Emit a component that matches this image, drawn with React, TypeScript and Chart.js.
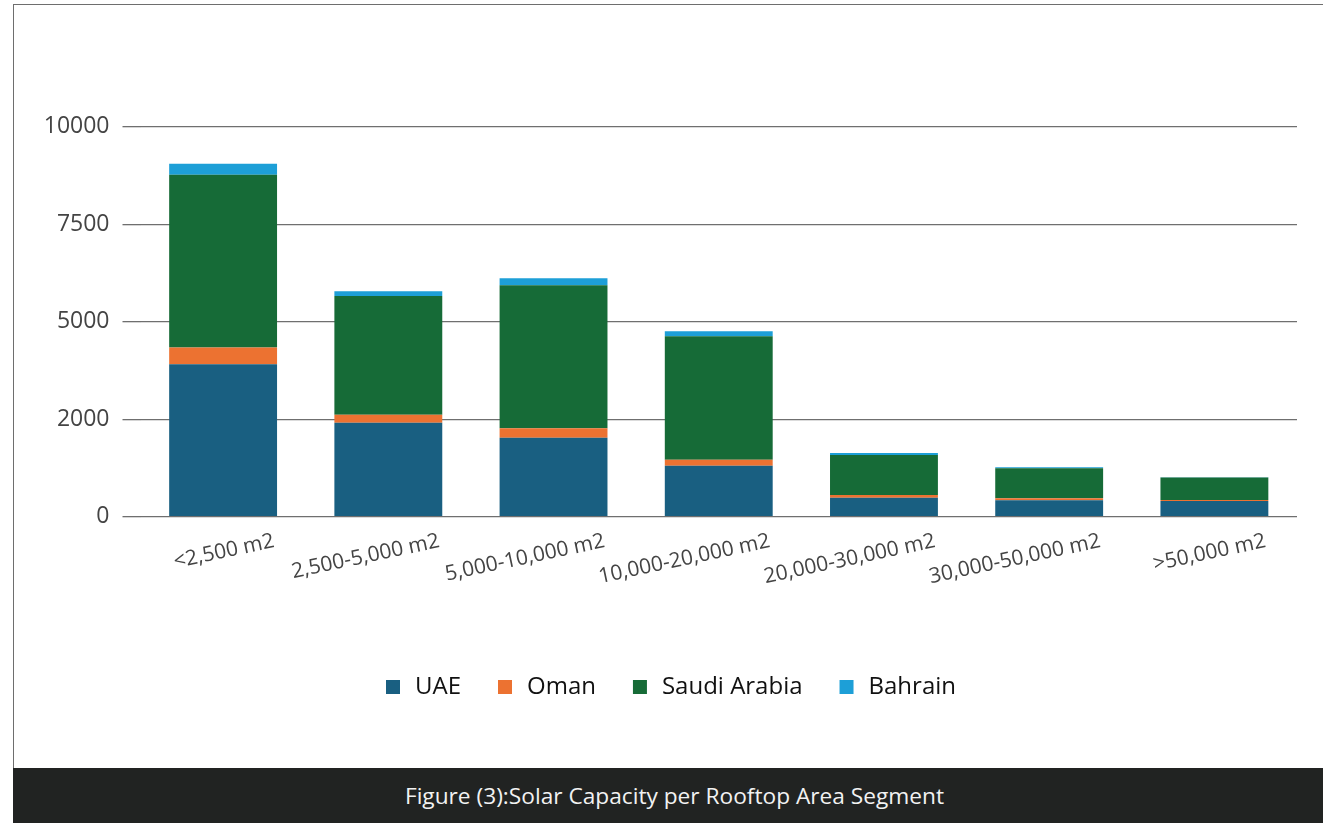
import React, { useEffect, useRef } from "react";
import { Chart, registerables } from "chart.js";

Chart.register(...registerables);

const categories = [
  "<2,500 m2",
  "2,500-5,000 m2",
  "5,000-10,000 m2",
  "10,000-20,000 m2",
  "20,000-30,000 m2",
  "30,000-50,000 m2",
  ">50,000 m2",
];

const uae = [3910, 2410, 2025, 1305, 485, 425, 400];
const oman = [430, 205, 240, 155, 70, 50, 30];
const saudiArabia = [4425, 3045, 3670, 3165, 1030, 770, 575];
const bahrain = [285, 120, 180, 130, 50, 25, 5];

const yTickValues = [0, 2500, 5000, 7500, 10000];
const yTickLabels = ["0", "2000", "5000", "7500", "10000"];

const caption = "Figure (3):Solar Capacity per Rooftop Area Segment";

const FONT = "'Open Sans', 'DejaVu Sans', sans-serif";

export default function App() {
  const canvasRef = useRef<HTMLCanvasElement | null>(null);

  useEffect(() => {
    const canvas = canvasRef.current;
    if (!canvas) return;
    const chart = new Chart(canvas, {
      type: "bar",
      data: {
        labels: categories,
        datasets: [
          { label: "UAE", data: uae, backgroundColor: "#195f81" },
          { label: "Oman", data: oman, backgroundColor: "#ec7231" },
          { label: "Saudi Arabia", data: saudiArabia, backgroundColor: "#166b37" },
          { label: "Bahrain", data: bahrain, backgroundColor: "#1d9fd7" },
        ],
      },
      options: {
        responsive: false,
        animation: false,
        devicePixelRatio: 1,
        layout: { padding: { top: 126.7, bottom: 59, left: 42, right: 26 } },
        datasets: {
          bar: { barPercentage: 0.653, categoryPercentage: 1, borderWidth: 0 },
        },
        plugins: {
          tooltip: { enabled: false },
          legend: {
            position: "bottom",
            labels: {
              usePointStyle: true,
              pointStyle: "rect",
              boxWidth: 20,
              boxHeight: 14,
              padding: 34,
              color: "#111111",
              font: { family: FONT, size: 24 },
            },
          },
        },
        scales: {
          x: {
            stacked: true,
            grid: { display: false, drawTicks: false },
            border: { display: false },
            ticks: {
              autoSkip: false,
              minRotation: 12,
              maxRotation: 12,
              labelOffset: 51,
              padding: 12,
              color: "#444444",
              font: { family: FONT, size: 21 },
            },
            afterFit: (scale: any) => {
              scale.height = 124.3;
            },
          },
          y: {
            stacked: true,
            min: 0,
            max: 10000,
            afterBuildTicks: (scale: any) => {
              scale.ticks = yTickValues.map((v) => ({ value: v }));
            },
            ticks: {
              padding: 13,
              color: "#444444",
              font: { family: FONT, size: 23 },
              callback: (_v: any, i: number) => yTickLabels[i],
            },
            grid: {
              color: "#6f6f6f",
              lineWidth: 1.3,
              drawTicks: true,
              tickLength: 18,
            },
            border: { display: false },
            afterFit: (scale: any) => {
              scale.width = 98.5;
            },
          },
        },
      },
    });
    return () => chart.destroy();
  }, []);

  return (
    <div
      style={{
        position: "absolute",
        left: 0,
        top: 0,
        width: 1323,
        height: 823,
        background: "#ffffff",
        overflow: "hidden",
      }}
    >
      <div
        style={{
          position: "absolute",
          left: 13,
          top: 4,
          width: 1330,
          height: 780,
          borderLeft: "1.5px solid #6e6e6e",
          borderTop: "1.5px solid #6e6e6e",
        }}
      />
      <canvas
        ref={canvasRef}
        width={1323}
        height={768}
        style={{ position: "absolute", left: 0, top: 0, display: "block" }}
      />
      <div
        style={{
          position: "absolute",
          left: 13,
          top: 768,
          width: 1310,
          height: 55,
          background: "#212322",
          color: "#f2f2f2",
          fontFamily: FONT,
          fontSize: 22.7,
          display: "flex",
          alignItems: "center",
          justifyContent: "center",
          paddingLeft: 13,
          boxSizing: "border-box",
        }}
      >
        {caption}
      </div>
    </div>
  );
}
